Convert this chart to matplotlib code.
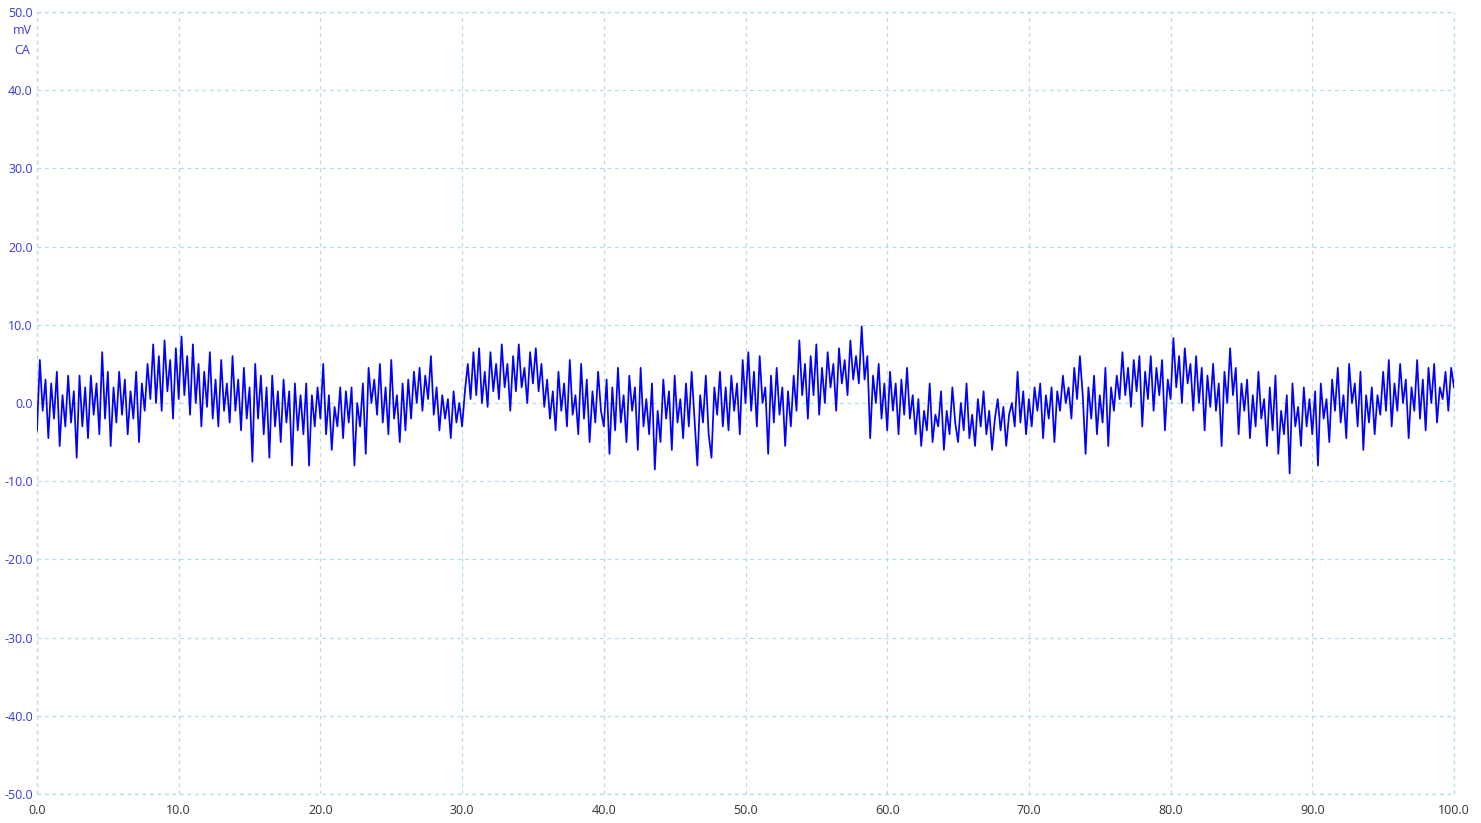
"""Recorder trace: one CA channel in mV over 0-100 s."""

import numpy as np
import matplotlib.pyplot as plt

# sample step of the trace (time units)
STEP = 0.2

# signal values in mV, one list per 10-unit stretch of the time axis
seg_00 = [-3.5, 5.5, -1, 3, -4.5, 2.5, -2, 4, -5.5, 1, -3, 3.5, -2.5, 1.5, -7, 3.5, -3, 2, -4.5, 3.5,
          -1.5, 2.5, -4, 6.5, -2, 4, -5.5, 2, -2.5, 4, -1.5, 3, -4, 1.5, -2, 4, -5, 2.5, -1, 5,
          0.5, 7.5, 0, 6, -1, 8, 1.5, 5.5, -2, 7]
seg_10 = [0.5, 8.5, 1, 6, -1.5, 7.5, 0, 5, -3, 4, -0.5, 6.5, -2, 3, -3, 5.5, -1, 2.5, -2.5, 6,
          -1, 3, -3.5, 4.5, -2, 2, -7.5, 5, -2, 3.5, -4, 2, -7, 3.5, -3, 1.5, -5, 3, -2.5, 1.5,
          -8, 2.5, -3.5, 1, -4, 2.5, -8, 1, -3, 2]
seg_20 = [-2, 5, -4, 1, -6, -0.5, -3, 2, -4.5, 1.5, -2.5, 2, -8, 0, -3, 2.5, -6.5, 4.5, 0, 3,
          -1.5, 5, -2.5, 2, -4, 5.5, -2, 1, -5, 2.5, -3.5, 3, -2, 4, 0, 4.5, -1, 3.5, 0.5, 6,
          -1.5, 2, -3.5, 1, -2, 0.5, -4.5, 1.5, -2.5, 0]
seg_30 = [-3, 1.5, 5, 0.5, 6.5, 1, 7, 0, 4, -0.5, 6.5, 1.5, 5, 0.5, 7.5, 2, 5, -1, 6, 1.5,
          7.5, 2, 4.5, 0, 6.5, 2.5, 7, 1.5, 5, -0.5, 3, -2, 1.5, -3.5, 4, -1, 2.5, -3, 5.5, -1.5,
          1, -4, 5, -2, 3, -5, 1.5, -2.5, 4, -1]
seg_40 = [-3, 3, -6.5, 2, -3.5, 4.5, -2.5, 1, -5, 3.5, -1, 2, -6, 4.5, -3, 0.5, -4, 2.5, -8.5, -1,
          -5, 3, -2, 1.5, -6, 3.5, -2.5, 0.5, -4.5, 2.5, -3, 4, -2, -8, 1, -2.5, 3.5, -4, -7, 2,
          -1.5, 4, -3, 2, -3.5, 3.5, -1, 2.5, -4, 5.5]
seg_50 = [0, 6.5, -1, 4, -3, 6, 0, 2, -6.5, 3.5, -2.5, 4.5, -1.5, 2, -5.5, 1.5, -3, 3.5, -1, 8,
          1, 5, -2, 6, 1, 7.5, -1.5, 4.5, 0, 6.5, 2, 5, -1, 7, 2.5, 5.5, 1, 8, 3, 6,
          2.5, 9.8, 3, 6, -4.5, 3.5, 0, 5, -2, 2.5]
seg_60 = [-3.5, 4, -1, 2.5, -4, 3, -1.5, 4.5, -2, 1, -4, 0.5, -5.5, -1, -3.5, 2.5, -5, -1.5, -3, 1.5,
          -6, -1, -4, 2, -2.5, -5, 0, -3.5, 2.5, -4.5, -1.5, -5.5, 0.5, -3, 1.5, -4, -1, -6, -2, 0.5,
          -3.5, -0.5, -5.5, -1.5, 0, -3, 4, -2.5, 1.5, -4]
seg_70 = [0.5, -3, 2, -1, 2.5, -4.5, 1, -2, 2, -5, 1.5, -1, 3.5, 0, 2, -2, 4.5, 0.5, 6, 1,
          -6.5, 2, -2, 3.5, -4, 1, -2.5, 4.5, -5.5, 2, -1, 3.5, 0.5, 6.5, 1, 4.5, -0.5, 5.5, 1.5, 6,
          -3, 4, 0.5, 6, -1, 4.5, 1, 5.5, -3.5, 3]
seg_80 = [0.5, 8.3, 2, 6, 0, 7, 2.5, 5, -1, 6, 0, 4.5, -3.5, 3.5, -0.5, 5, -1, 2.5, -5.5, 4,
          0, 7, 1, 4.5, -4, 2.5, -1, 3, -4.5, 1, -3, 4, -2, 0.5, -5.5, 2, -3.5, 3.5, -6.5, -1,
          -4, 1, -9, 2.5, -3, -0.5, -5.5, 2, -3, 0.5]
seg_90 = [-4, 1.5, -8, 2.5, -2, 0.5, -5, 3, -1, 4.5, -2.5, 1, -4.5, 5, 0, 2.5, -3, 4, -6, 1,
          -2.5, 2, -4, 1, -1.5, 4, -1, 5.5, -3, 2.5, -1, 5, 0, 3, -4.5, 2, -1, 5.5, -2, 3,
          -3.5, 4.5, 0, 5, -2.5, 2, 0.5, 4, -1, 4.5, 2]

signal = np.concatenate([seg_00, seg_10, seg_20, seg_30, seg_40,
                         seg_50, seg_60, seg_70, seg_80, seg_90])
t = np.arange(len(signal)) * STEP

x_ticks = np.arange(0, 101, 10)
y_ticks = np.arange(-50, 51, 10)

LABEL_BLUE = "#3a3ad8"
GRID = "#b4dce6"
DASH = (0, (3, 3))

plt.rcParams["font.family"] = ["Open Sans", "DejaVu Sans"]

fig = plt.figure(figsize=(14.81, 8.23), dpi=100)
ax = fig.add_axes([37 / 1481, 29 / 823, 1417 / 1481, 782 / 823])

ax.plot(t, signal, color="#0000ff", lw=1.25)

ax.set_xlim(0, 100)
ax.set_ylim(-50, 50)
ax.set_xticks(x_ticks)
ax.set_yticks(y_ticks)
ax.set_xticklabels([f"{v:.1f}" for v in x_ticks], fontsize=9, color="#333333")
ax.set_yticklabels([f"{v:.1f}" for v in y_ticks], fontsize=9, color=LABEL_BLUE)
ax.tick_params(axis="y", length=0, pad=3)
ax.tick_params(axis="x", length=0, pad=7)

ax.grid(True, color=GRID, ls=DASH, lw=0.9)
ax.set_axisbelow(True)
for s in ax.spines.values():
    s.set_visible(False)
# frame edges drawn as the same dashed grid
for xv in (0, 100):
    ax.axvline(xv, color=GRID, ls=DASH, lw=0.9, clip_on=False, zorder=0)
for yv in (-50, 50):
    ax.axhline(yv, color=GRID, ls=DASH, lw=0.9, clip_on=False, zorder=0)

fig.text(22 / 1481, 1 - 31 / 823, "mV", color=LABEL_BLUE, fontsize=9, ha="center", va="center")
fig.text(22 / 1481, 1 - 50 / 823, "CA", color=LABEL_BLUE, fontsize=9, ha="center", va="center")

fig.savefig("out.png", dpi=100)
